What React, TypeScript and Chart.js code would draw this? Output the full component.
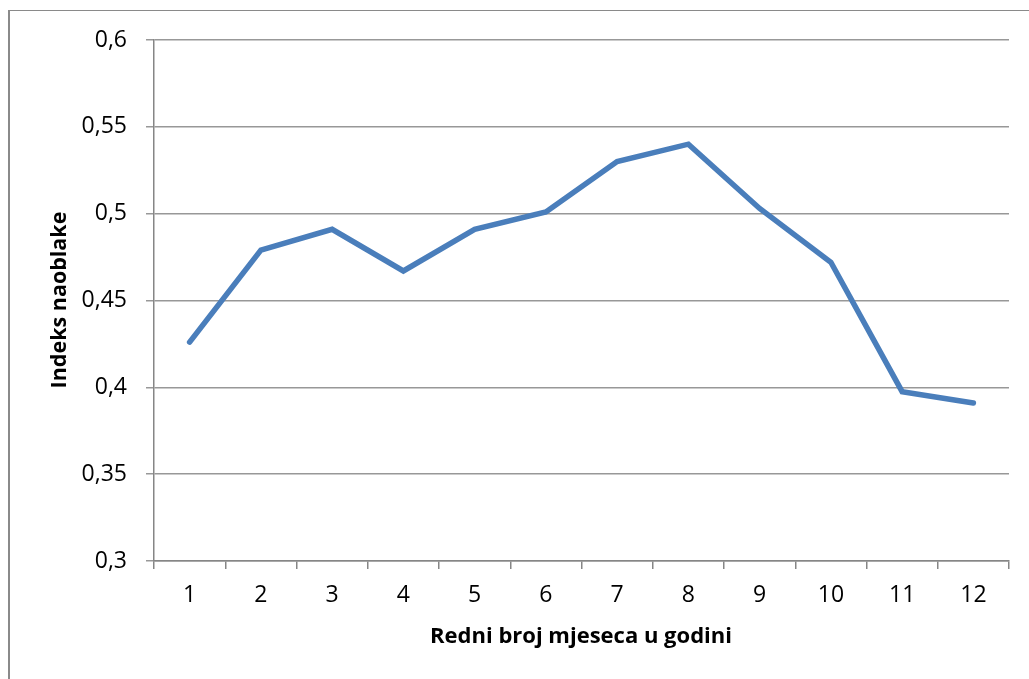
import React, { useEffect, useRef } from "react";
import { Chart, registerables } from "chart.js";

Chart.register(...registerables);

const categories = ["1", "2", "3", "4", "5", "6", "7", "8", "9", "10", "11", "12"];
const cloudIndex = [0.426, 0.479, 0.491, 0.467, 0.491, 0.501, 0.530, 0.540, 0.503, 0.472, 0.3975, 0.391];
const yTickValues = [0.3, 0.35, 0.4, 0.45, 0.5, 0.55, 0.6];
const yTickLabels = ["0,3", "0,35", "0,4", "0,45", "0,5", "0,55", "0,6"];
const xTitle = "Redni broj mjeseca u godini";
const yTitle = "Indeks naoblake";

const FONT = "'Open Sans', 'Noto Sans', sans-serif";

const titlesPlugin = {
  id: "axisTitles",
  afterDraw(chart: any) {
    const ctx = chart.ctx;
    ctx.save();
    ctx.fillStyle = "#000";
    ctx.textAlign = "center";
    ctx.textBaseline = "middle";
    ctx.font = `bold 22px ${FONT}`;
    ctx.fillText(xTitle, 581, 637);
    ctx.font = `bold 21.5px ${FONT}`;
    ctx.translate(60, 300);
    ctx.rotate(-Math.PI / 2);
    ctx.fillText(yTitle, 0, 0);
    ctx.restore();
  },
};

export default function App() {
  const ref = useRef<HTMLCanvasElement | null>(null);
  useEffect(() => {
    if (!ref.current) return;
    const chart = new Chart(ref.current, {
      type: "line",
      data: {
        labels: categories,
        datasets: [
          {
            data: cloudIndex,
            borderColor: "#4A7EBB",
            borderWidth: 5.5,
            pointRadius: 0,
            tension: 0,
            fill: false,
            borderCapStyle: "round",
            borderJoinStyle: "miter",
          },
        ],
      },
      options: {
        animation: false,
        responsive: false,
        maintainAspectRatio: false,
        layout: { padding: { top: 40, right: 20, left: 0, bottom: 0 } },
        plugins: { legend: { display: false }, tooltip: { enabled: false }, title: { display: false } },
        scales: {
          x: {
            type: "category",
            offset: true,
            grid: {
              offset: true,
              drawOnChartArea: false,
              drawTicks: true,
              tickLength: 8,
              color: "#868686",
              lineWidth: 1.5,
            },
            border: { display: true, color: "#868686", width: 1.5 },
            ticks: { color: "#000", font: { family: FONT, size: 23 }, padding: 13, maxRotation: 0 },
            afterFit(scale: any) {
              scale.height = 679 - 561;
            },
          },
          y: {
            min: 0.3,
            max: 0.6,
            afterBuildTicks(scale: any) {
              scale.ticks = yTickValues.map((v) => ({ value: v }));
            },
            grid: {
              color: "#989898",
              lineWidth: 1.5,
              tickLength: 8,
              drawTicks: true,
            },
            border: { display: true, color: "#868686", width: 1.5 },
            ticks: {
              color: "#000",
              font: { family: FONT, size: 23 },
              padding: 19,
              callback: (value: any) => {
                const i = yTickValues.findIndex((v) => Math.abs(v - Number(value)) < 1e-9);
                return i >= 0 ? yTickLabels[i] : "";
              },
            },
            afterFit(scale: any) {
              scale.width = 154;
            },
          },
        },
      },
      plugins: [titlesPlugin],
    } as any);
    return () => chart.destroy();
  }, []);

  return (
    <div style={{ position: "fixed", left: 0, top: 0, width: 1029, height: 679, background: "#fff", overflow: "hidden" }}>
      <div
        style={{
          position: "absolute",
          left: 8,
          top: 10,
          width: 1100,
          height: 800,
          borderTop: "1.5px solid #8a8a8a",
          borderLeft: "2px solid #8a8a8a",
          boxSizing: "border-box",
        }}
      />
      <canvas ref={ref} width={1029} height={679} style={{ position: "absolute", left: 0, top: 0 }} />
    </div>
  );
}
